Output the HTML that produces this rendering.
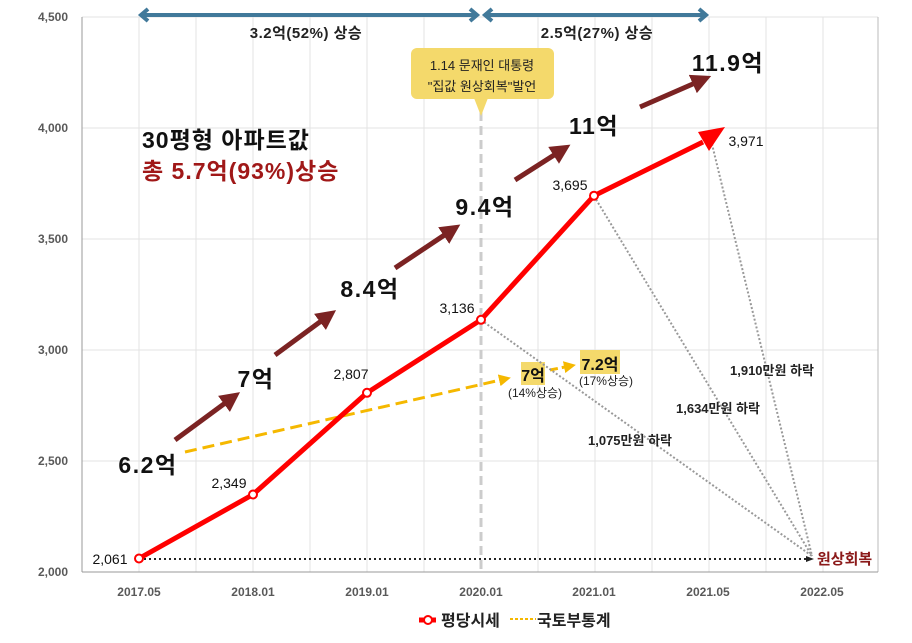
<!DOCTYPE html><html><head><meta charset="utf-8"><style>body{margin:0;background:#fff}svg{display:block;font-family:"Liberation Sans","Noto Sans CJK KR",sans-serif}</style></head><body>
<svg width="912" height="643" viewBox="0 0 912 643">
<defs>
<marker id="dr" markerWidth="4" markerHeight="4" refX="2" refY="2" orient="auto" markerUnits="strokeWidth"><path d="M0,0L4,2L0,4z" fill="#7b2323"/></marker>
<marker id="ye" markerWidth="4" markerHeight="4" refX="2" refY="2" orient="auto" markerUnits="strokeWidth"><path d="M0,0L4,2L0,4z" fill="#f5b800"/></marker>
<marker id="bk" markerWidth="8" markerHeight="6" refX="6" refY="3" orient="auto" markerUnits="userSpaceOnUse"><path d="M0,0L8,3L0,6z" fill="#222"/></marker>
</defs>
<g stroke="#e3e3e3" stroke-width="1">
<line x1="82" y1="128" x2="878" y2="128"/><line x1="82" y1="239" x2="878" y2="239"/><line x1="82" y1="350" x2="878" y2="350"/><line x1="82" y1="461" x2="878" y2="461"/>
<line x1="82" y1="17" x2="878" y2="17"/>
<line x1="139" y1="17" x2="139" y2="572"/><line x1="196" y1="17" x2="196" y2="572"/><line x1="253" y1="17" x2="253" y2="572"/><line x1="310" y1="17" x2="310" y2="572"/><line x1="367" y1="17" x2="367" y2="572"/><line x1="424" y1="17" x2="424" y2="572"/><line x1="538" y1="17" x2="538" y2="572"/><line x1="595" y1="17" x2="595" y2="572"/><line x1="652" y1="17" x2="652" y2="572"/><line x1="709" y1="17" x2="709" y2="572"/><line x1="766" y1="17" x2="766" y2="572"/><line x1="823" y1="17" x2="823" y2="572"/>
</g>
<line x1="878" y1="17" x2="878" y2="572" stroke="#bbb"/>
<line x1="82" y1="17" x2="82" y2="572" stroke="#999"/><line x1="82" y1="572" x2="878" y2="572" stroke="#999"/>
<g font-size="12" font-weight="bold" fill="#595959" text-anchor="end">
<text x="68" y="21">4,500</text><text x="68" y="132">4,000</text><text x="68" y="243">3,500</text><text x="68" y="354">3,000</text><text x="68" y="465">2,500</text><text x="68" y="576">2,000</text></g>
<g font-size="12" font-weight="bold" fill="#595959" text-anchor="middle">
<text x="139" y="596">2017.05</text><text x="253" y="596">2018.01</text><text x="367" y="596">2019.01</text><text x="481" y="596">2020.01</text><text x="594" y="596">2021.01</text><text x="708" y="596">2021.05</text><text x="822" y="596">2022.05</text></g>
<g stroke="#41799a" stroke-width="4" fill="none">
<line x1="142" y1="15" x2="476" y2="15"/><line x1="486" y1="15" x2="705" y2="15"/>
<path d="M148,9L141,15L148,21M470,9L477,15L470,21M492,9L485,15L492,21M699,9L706,15L699,21"/></g>
<text x="306" y="38" font-size="15" font-weight="bold" text-anchor="middle" fill="#222" letter-spacing="0.5">3.2억(52%) 상승</text>
<text x="597" y="38" font-size="15" font-weight="bold" text-anchor="middle" fill="#222" letter-spacing="0.5">2.5억(27%) 상승</text>
<line x1="481" y1="112" x2="481" y2="572" stroke="#ccc" stroke-width="3" stroke-dasharray="9,5"/>
<rect x="411" y="48" width="143" height="51" rx="6" fill="#f4d96b"/><path d="M474,98L481,116L488,98z" fill="#f4d96b"/>
<text x="482" y="70" font-size="13" text-anchor="middle" fill="#222">1.14 문재인 대통령</text>
<text x="482" y="91" font-size="13" text-anchor="middle" fill="#222">"집값 원상회복"발언</text>
<text x="142" y="148" font-size="23" font-weight="bold" fill="#111" letter-spacing="1">30평형 아파트값</text>
<text x="142" y="179" font-size="23" font-weight="bold" fill="#a01818" letter-spacing="1">총 5.7억(93%)상승</text>
<g stroke="#7b2323" stroke-width="5" marker-end="url(#dr)">
<line x1="175" y1="440" x2="232" y2="398"/><line x1="275" y1="355" x2="328" y2="316"/><line x1="395" y1="268" x2="452" y2="230"/><line x1="515" y1="180" x2="562" y2="150"/><line x1="640" y1="107" x2="702" y2="80"/></g>
<g font-size="23" font-weight="bold" fill="#111" text-anchor="middle" letter-spacing="1.5">
<text x="148" y="473">6.2억</text><text x="256" y="387">7억</text><text x="370" y="297">8.4억</text><text x="485" y="215">9.4억</text><text x="594" y="134">11억</text><text x="728" y="71">11.9억</text></g>
<line x1="185" y1="452" x2="505" y2="379" stroke="#f5b800" stroke-width="3" stroke-dasharray="12,6" marker-end="url(#ye)"/>
<line x1="550" y1="370" x2="570" y2="366" stroke="#f5b800" stroke-width="3" stroke-dasharray="8,4" marker-end="url(#ye)"/>
<rect x="521" y="362" width="24" height="23" fill="#f4d96b"/><rect x="580" y="350" width="40" height="24" fill="#f4d96b"/>
<text x="533" y="381" font-size="16" font-weight="bold" text-anchor="middle" fill="#111">7억</text>
<text x="600" y="370" font-size="16" font-weight="bold" text-anchor="middle" fill="#111">7.2억</text>
<text x="535" y="397" font-size="12" text-anchor="middle" fill="#222">(14%상승)</text>
<text x="606" y="385" font-size="12" text-anchor="middle" fill="#222">(17%상승)</text>
<g stroke="#999" stroke-width="2" stroke-dasharray="2,2" fill="none">
<line x1="481" y1="320" x2="812" y2="556"/><line x1="594" y1="196" x2="812" y2="556"/><line x1="710" y1="136" x2="812" y2="556"/></g>
<line x1="139" y1="559" x2="812" y2="559" stroke="#222" stroke-width="2" stroke-dasharray="2,3" marker-end="url(#bk)"/>
<text x="817" y="564" font-size="15" font-weight="bold" fill="#8b1a1a">원상회복</text>
<g font-size="13" font-weight="bold" fill="#222" text-anchor="middle">
<text x="630" y="445">1,075만원 하락</text><text x="718" y="413">1,634만원 하락</text><text x="772" y="375">1,910만원 하락</text></g>
<polyline points="139,558.5 253,494.5 367,392.8 481,319.8 594,195.7 703,142" fill="none" stroke="#ff0000" stroke-width="5" stroke-linejoin="round"/>
<path d="M725,127L698,132L709,151z" fill="#ff0000"/>
<g fill="#fff" stroke="#ff0000" stroke-width="2"><circle cx="139" cy="558.5" r="4"/><circle cx="253" cy="494.5" r="4"/><circle cx="367" cy="392.8" r="4"/><circle cx="481" cy="319.8" r="4"/><circle cx="594" cy="195.7" r="4"/></g>
<g font-size="14" fill="#111" text-anchor="middle">
<text x="110" y="564">2,061</text><text x="229" y="488">2,349</text><text x="351" y="379">2,807</text><text x="457" y="313">3,136</text><text x="570" y="190">3,695</text><text x="746" y="146">3,971</text></g>
<line x1="419" y1="620" x2="436" y2="620" stroke="#ff0000" stroke-width="5"/><circle cx="428" cy="620" r="4" fill="#fff" stroke="#ff0000" stroke-width="2"/>
<text x="441" y="626" font-size="16" font-weight="bold" fill="#222">평당시세</text>
<line x1="510" y1="619" x2="536" y2="619" stroke="#f5b800" stroke-width="2" stroke-dasharray="3,2"/>
<text x="537" y="626" font-size="16" font-weight="bold" fill="#222">국토부통계</text>
</svg></body></html>
